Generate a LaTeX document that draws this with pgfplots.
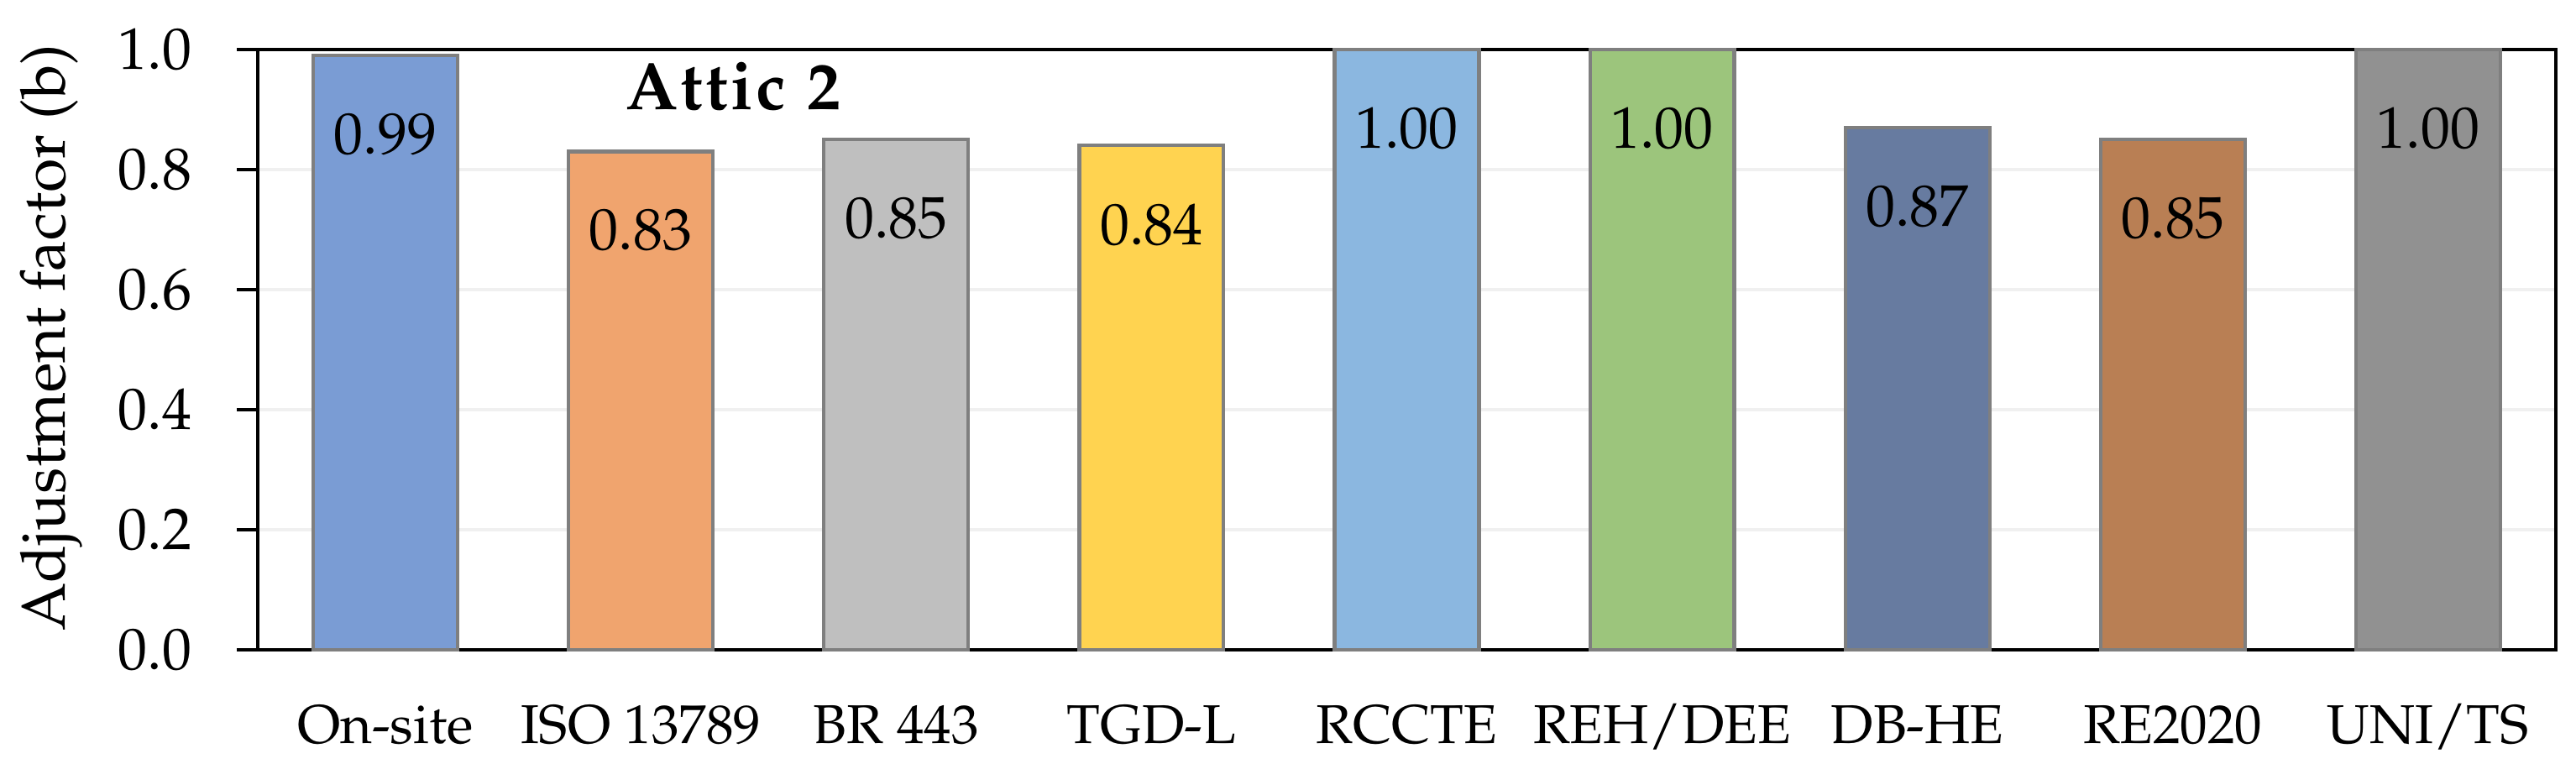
\documentclass[border=0pt]{standalone}
\usepackage[T1]{fontenc}
\usepackage{mathpazo}
\usepackage{pgfplots}
\pgfplotsset{compat=1.18}
\definecolor{cOn}{RGB}{122,156,212}
\definecolor{cISO}{RGB}{240,164,110}
\definecolor{cBR}{RGB}{191,191,191}
\definecolor{cTGD}{RGB}{255,211,80}
\definecolor{cRCC}{RGB}{139,183,224}
\definecolor{cREH}{RGB}{156,197,124}
\definecolor{cDB}{RGB}{103,123,160}
\definecolor{cRE}{RGB}{185,127,84}
\definecolor{cUNI}{RGB}{145,145,145}
\definecolor{edge}{RGB}{127,127,127}
\definecolor{gridc}{RGB}{240,240,240}
\pgfplotsset{mybar/.style={fill=#1, draw=edge, line width=0.6pt, bar shift=0pt}}
\begin{document}
\begin{tikzpicture}
\path[use as bounding box] (-43.86pt,-19.43pt) rectangle (394.43pt,110.57pt);
\begin{axis}[
  at={(0,0)}, anchor=south west,
  scale only axis, width=391pt, height=102.14pt,
  xmin=-0.5, xmax=8.5, ymin=0, ymax=1,
  ybar, bar width=0.565,
  clip=false,
  axis line style={black, line width=0.45pt},
  ytick={0,0.2,0.4,0.6,0.8,1.0},
  yticklabel style={/pgf/number format/fixed, /pgf/number format/fixed zerofill, /pgf/number format/precision=1, font=\fontsize{10}{12}\selectfont, xshift=-4.1pt},
  tick align=outside, major tick length=3.6pt,
  ytick pos=left,
  ytick style={black, line width=0.45pt},
  xtick={0,1,2,3,4,5,6,7,8},
  xticklabels={On-site, ISO 13789, BR 443, TGD-L, RCCTE, REH/DEE, DB-HE, RE2020, UNI/TS},
  xtick style={draw=none},
  xticklabel style={font=\fontsize{9.3}{11}\selectfont, anchor=base, yshift=-12.4pt},
  ymajorgrids, grid style={gridc, line width=0.7pt},
  ylabel={Adjustment factor (b)},
  ylabel style={at={(axis description cs:-0.0897,0.52)}, anchor=center, font=\fontsize{10.5}{12}\selectfont},
  nodes near coords={\pgfmathprintnumber[fixed, fixed zerofill, precision=2]{\pgfplotspointmeta}},
  every node near coord/.append style={anchor=center, yshift=-13.4pt, font=\fontsize{10}{12}\selectfont, text=black},
]
\addplot[mybar=cOn] coordinates {(0,0.99)};
\addplot[mybar=cISO] coordinates {(1,0.83)};
\addplot[mybar=cBR] coordinates {(2,0.85)};
\addplot[mybar=cTGD] coordinates {(3,0.84)};
\addplot[mybar=cRCC] coordinates {(4,1.00)};
\addplot[mybar=cREH] coordinates {(5,1.00)};
\addplot[mybar=cDB] coordinates {(6,0.87)};
\addplot[mybar=cRE] coordinates {(7,0.85)};
\addplot[mybar=cUNI] coordinates {(8,1.00)};
\node[font=\bfseries\fontsize{11.4}{13}\selectfont, inner sep=0pt] at (axis description cs:0.207,0.939) {A\kern0.5pt t\kern0.5pt t\kern0.5pt i\kern0.5pt c\kern0.5pt\ \kern0.3pt 2};
\end{axis}
\end{tikzpicture}
\end{document}
